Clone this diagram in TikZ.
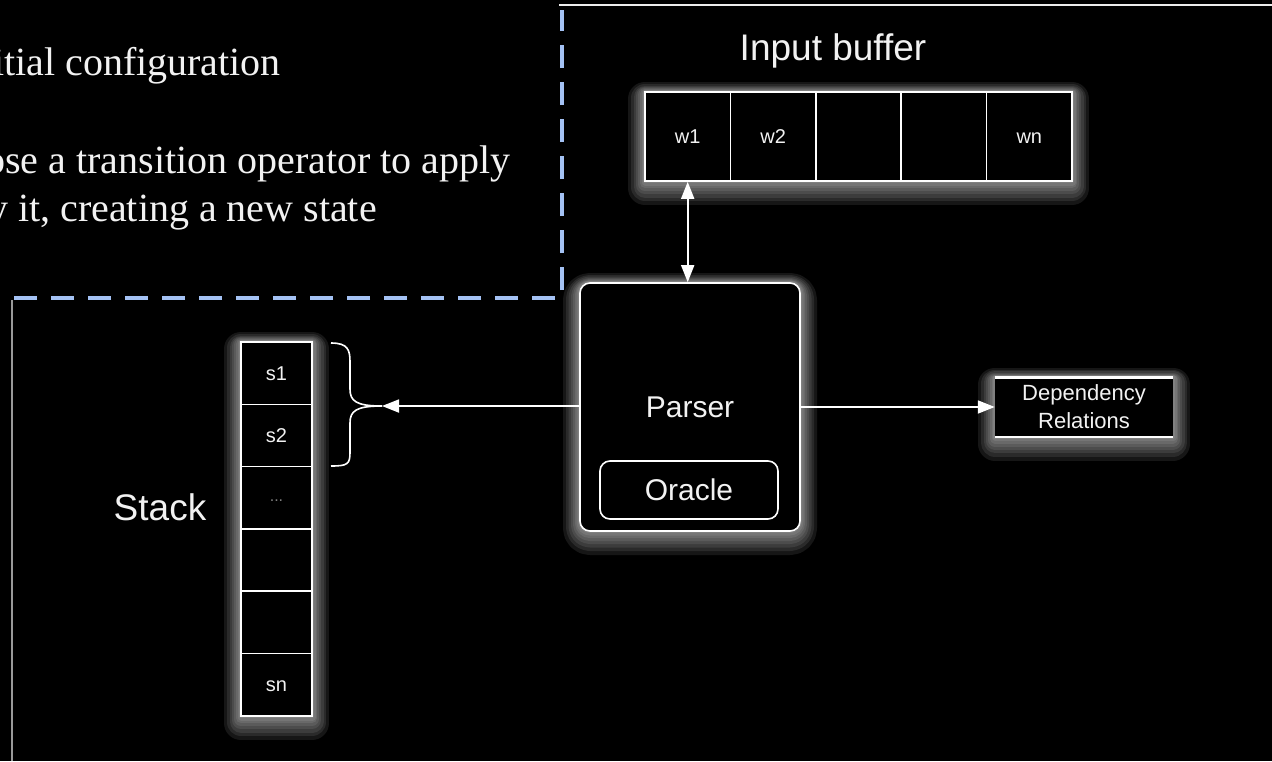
\documentclass[tikz,border=0pt]{standalone}
\usepackage{fontspec}
\setmainfont{Liberation Serif}
\setsansfont{Liberation Sans}
\usetikzlibrary{arrows.meta}
\definecolor{dashblue}{HTML}{A4C2F4}
\definecolor{txt}{HTML}{F2F2F2}
\begin{document}
\begin{tikzpicture}[x=1pt,y=-1pt,
  gl/.style 2 args={preaction={draw=white, draw opacity=0.085, line join=round, line width=#1pt, transform canvas={yshift=-#2pt}}},
  glow/.style={gl={34}{7}, gl={28}{6}, gl={23}{5}, gl={18}{4}, gl={14}{3}, gl={10}{2}, gl={7}{1}, gl={4}{0}},
  serif/.style={inner sep=0pt, text=txt, font=\rmfamily\fontsize{40pt}{48pt}\selectfont},
  title/.style={inner sep=0pt, text=txt, font=\sffamily\fontsize{37pt}{44pt}\selectfont},
  bufcell/.style={draw=white, line width=1.6pt, minimum width=85.4pt, minimum height=89pt, inner sep=0pt, text height=14.3pt, text depth=0pt, text=txt, font=\sffamily\fontsize{20pt}{24pt}\selectfont},
  stkcell/.style={draw=white, line width=1.6pt, minimum width=71pt, minimum height=62.3pt, inner sep=0pt, text height=14.3pt, text depth=0pt, text=txt, font=\sffamily\fontsize{20pt}{24pt}\selectfont},
  rbox/.style={draw=white, line width=1.6pt, fill=black, rounded corners=10pt, inner sep=0pt, text=txt, font=\sffamily\fontsize{30pt}{36pt}\selectfont},
  conn/.style={draw=white, line width=1.8pt, -{Triangle[length=17pt,width=13pt]}},
  dconn/.style={draw=white, line width=1.8pt, {Triangle[length=17pt,width=13pt]}-{Triangle[length=17pt,width=13pt]}}
]
\useasboundingbox (0,0) rectangle (1272,761);
\fill[black] (0,0) rectangle (1272,761);

% frame lines
\draw[white!85!gray, line width=2.2pt] (559,5) -- (1272,5);
\draw[gray!80!white, line width=2pt] (12,300) -- (12,761);
\draw[dashblue, line width=4pt, dash pattern=on 23pt off 14pt, dash phase=-8pt] (562,298) -- (562,10);
\draw[dashblue, line width=4pt, dash pattern=on 23pt off 14pt, dash phase=-7pt] (562,298) -- (-10,298);

% serif text
\node[serif, anchor=base east] (t1) at (281,75) {itial configuration};
\node[serif, anchor=base east] (t2) at (511,173) {ose a transition operator to apply};
\node[serif, anchor=base east] (t3) at (377,221) {y it, creating a new state};

% input buffer
\node[title] (ibt) at (833,51) {Input buffer};
\path[glow, fill=black] (645,92) rectangle (1072,181);
\node[bufcell] (w1) at (687.7,136.5) {w1};
\node[bufcell] (w2) at (773.1,136.5) {w2};
\node[bufcell] (w3) at (858.5,136.5) {};
\node[bufcell] (w4) at (943.9,136.5) {};
\node[bufcell] (wn) at (1029.3,136.5) {wn};

% stack
\node[title] (stk) at (160,507) {Stack};
\path[glow, fill=black] (241,342) rectangle (312,716);
\node[stkcell] (s1) at (276.5,373.2) {s1};
\node[stkcell] (s2) at (276.5,435.5) {s2};
\node[stkcell, text=gray, text height=8pt, font=\sffamily\fontsize{16pt}{18pt}\selectfont] (s3) at (276.5,497.8) {...};
\node[stkcell] (s4) at (276.5,560.1) {};
\node[stkcell] (s5) at (276.5,622.4) {};
\node[stkcell] (sn) at (276.5,684.7) {sn};

% parser
\node[rbox, glow, minimum width=220pt, minimum height=248pt] (parser) at (690,407) {Parser};
\node[rbox, minimum width=178pt, minimum height=58pt, text height=21.5pt, text depth=0pt] (oracle) at (689,490) {Oracle};

% dependency relations
\node[glow, fill=black, minimum width=178pt, minimum height=59pt, inner sep=0pt, align=center, text=txt,
      font=\sffamily\fontsize{22pt}{28pt}\selectfont] (dep) at (1084,407) {Dependency\\Relations};
\draw[white, line width=2.4pt] (dep.north west) -- (dep.north east);
\draw[white, line width=2.4pt] (dep.south west) -- (dep.south east);

% brace
\coordinate (brtip) at (382,406);
\draw[white, line width=1.6pt] (331,343) .. controls (348,343) and (350,350) .. (350,362) -- (350,389)
  .. controls (350,401) and (356,406) .. (brtip)
  .. controls (356,406) and (350,411) .. (350,423) -- (350,452)
  .. controls (350,464) and (348,466) .. (331,466);

% connectors
\draw[dconn] (w1.south) -- (w1.south |- parser.north);
\draw[conn] (parser.west |- brtip) -- (brtip);
\draw[conn] (parser.east |- dep.west) -- (dep.west);
\end{tikzpicture}
\end{document}
